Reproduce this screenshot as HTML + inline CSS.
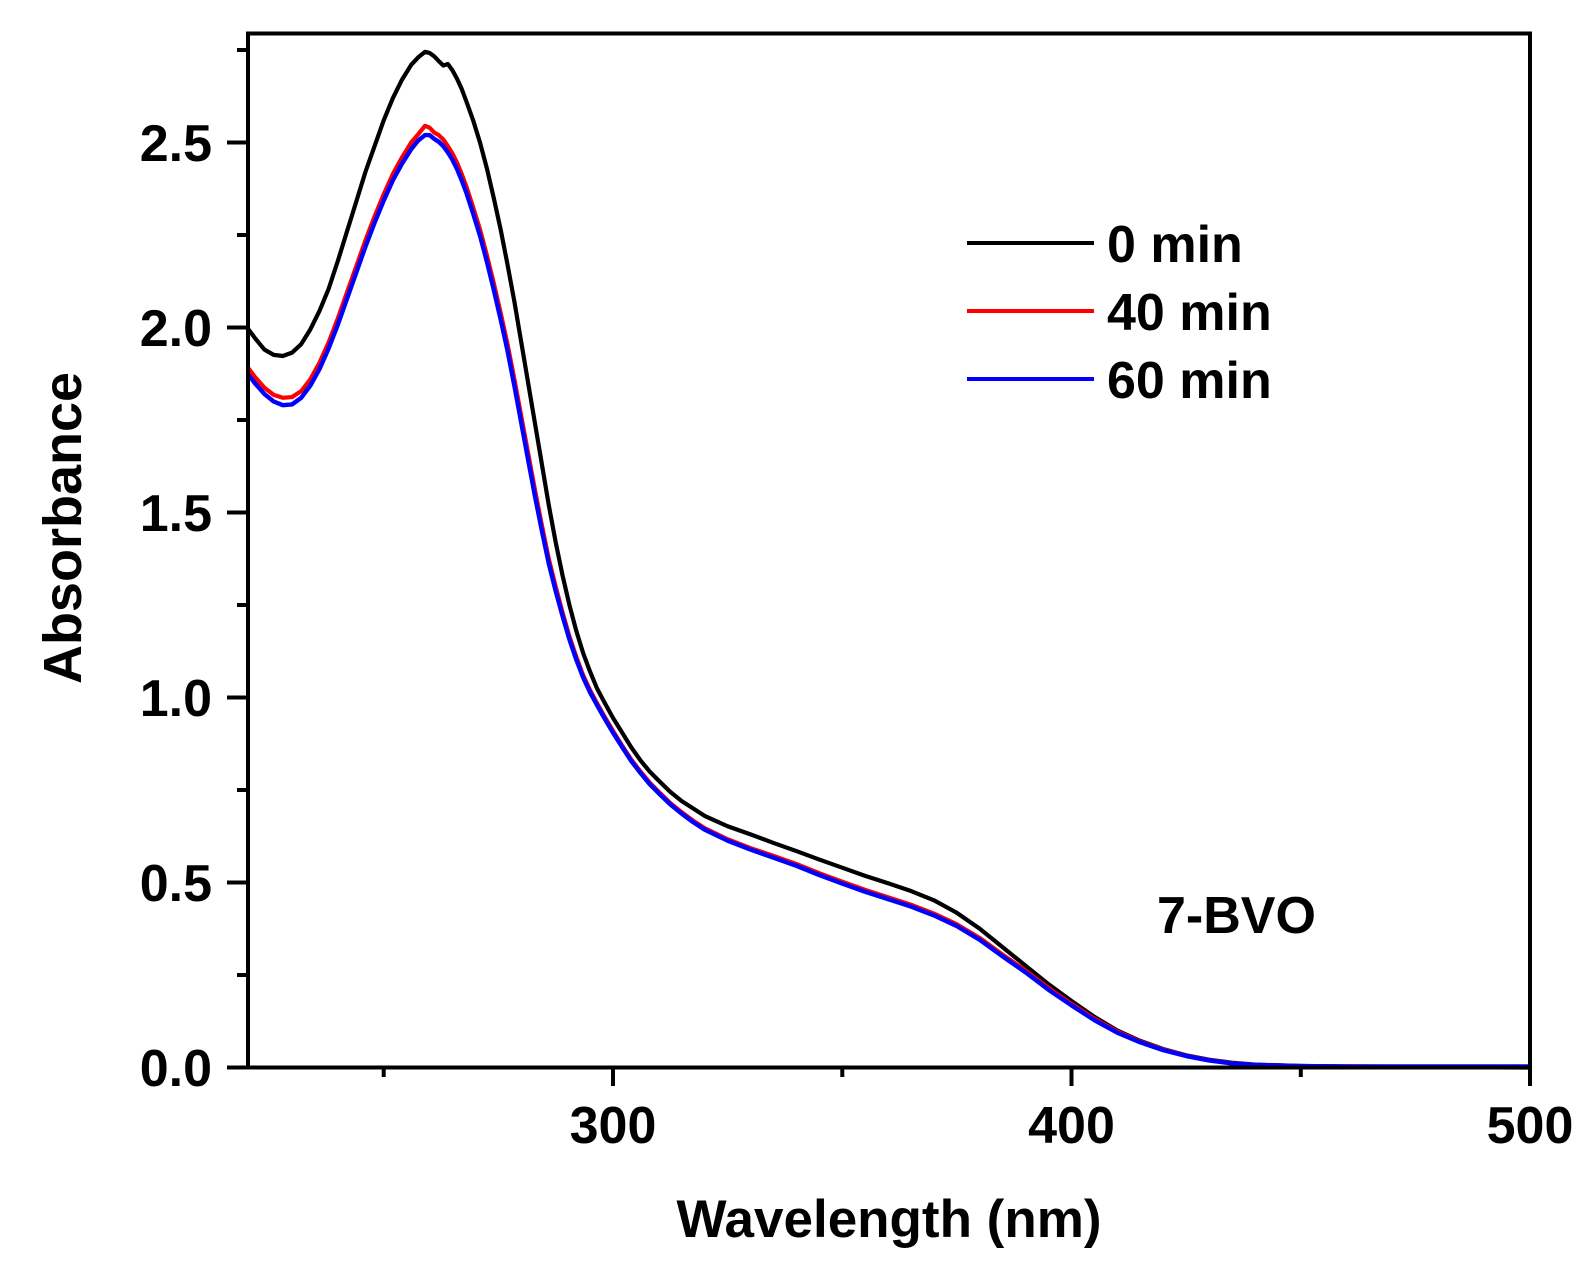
<!DOCTYPE html>
<html>
<head>
<meta charset="utf-8">
<style>
  html, body { margin: 0; padding: 0; background: #ffffff; }
  svg { display: block; }
  text { font-family: "Liberation Sans", Arial, sans-serif; font-weight: bold; fill: #000; }
</style>
</head>
<body>
<svg width="1586" height="1270" viewBox="0 0 1586 1270" xmlns="http://www.w3.org/2000/svg">
  <rect x="0" y="0" width="1586" height="1270" fill="#ffffff"/>

  <!-- curves in data coordinates -->
  <g transform="matrix(4.585,0,0,-370,-762.53,1067.5)" fill="none" stroke-linejoin="round" stroke-linecap="round">
    <polyline vector-effect="non-scaling-stroke" stroke="#000000" stroke-width="4.2" points="
      220.5,1.995 222,1.97 224,1.94 226,1.926 228,1.923 230,1.932 232,1.955 234,1.995 236,2.045 238,2.105
      240,2.18 242,2.26 244,2.34 246,2.42 248,2.49 250,2.56 252,2.62 254,2.67 256,2.71 257.5,2.73
      259,2.745 260,2.742 261,2.733 262,2.72 263,2.708 264,2.712 265,2.695 266,2.672 267,2.645 268,2.612
      269.5,2.56 271,2.5 272.5,2.43 274,2.35 275.5,2.265 277,2.17 278.5,2.07 280,1.96 281.5,1.85 283,1.74
      284.5,1.63 286,1.52 287.5,1.42 289,1.33 290.5,1.25 292,1.18 293.5,1.12 295,1.07 296.5,1.025 298,0.99
      300,0.945 302,0.905 304,0.865 306,0.83 308,0.8 310,0.775 312.5,0.745 315,0.72 317.5,0.7 320,0.68
      325,0.652 330,0.63 335,0.607 340,0.585 345,0.562 350,0.54 355,0.518 360,0.498 365,0.477 370,0.452
      375,0.418 380,0.375 385,0.325 390,0.275 395,0.225 400,0.18 405,0.137 410,0.1 415,0.072 420,0.05
      425,0.033 430,0.021 435,0.013 440,0.008 450,0.004 460,0.002 480,0.001 500,0.0"/>
    <polyline vector-effect="non-scaling-stroke" stroke="#ff0000" stroke-width="4.2" points="
      220.5,1.89 222,1.865 224,1.837 226,1.818 228,1.81 230,1.812 232,1.828 234,1.86 236,1.905 238,1.96
      240,2.025 242,2.095 244,2.165 246,2.235 248,2.3 250,2.36 252,2.415 254,2.46 256,2.5 257.5,2.522
      259,2.545 260,2.54 261,2.527 262,2.52 263,2.508 264,2.49 265,2.47 266,2.445 267,2.415 268,2.382
      269.5,2.325 271,2.265 272.5,2.195 274,2.12 275.5,2.04 277,1.955 278.5,1.86 280,1.76 281.5,1.66 283,1.56
      284.5,1.465 286,1.375 287.5,1.3 289,1.23 290.5,1.165 292,1.11 293.5,1.06 295,1.02 296.5,0.985 298,0.952
      300,0.91 302,0.87 304,0.832 306,0.8 308,0.77 310,0.745 312.5,0.715 315,0.69 317.5,0.667 320,0.647
      325,0.617 330,0.593 335,0.572 340,0.55 345,0.525 350,0.502 355,0.48 360,0.46 365,0.44 370,0.416
      375,0.387 380,0.35 385,0.305 390,0.262 395,0.215 400,0.172 405,0.132 410,0.097 415,0.07 420,0.049
      425,0.032 430,0.02 435,0.012 440,0.007 450,0.004 460,0.003 480,0.002 500,0.002"/>
    <polyline vector-effect="non-scaling-stroke" stroke="#0000ff" stroke-width="4.4" points="
      220.5,1.872 222,1.848 224,1.82 226,1.8 228,1.79 230,1.792 232,1.81 234,1.843 236,1.888 238,1.944
      240,2.008 242,2.078 244,2.148 246,2.218 248,2.283 250,2.343 252,2.398 254,2.443 256,2.482 257.5,2.505
      259,2.52 260,2.52 261,2.51 262,2.502 263,2.49 264,2.473 265,2.453 266,2.428 267,2.398 268,2.365
      269.5,2.308 271,2.248 272.5,2.178 274,2.102 275.5,2.022 277,1.937 278.5,1.842 280,1.742 281.5,1.642 283,1.543
      284.5,1.45 286,1.362 287.5,1.288 289,1.22 290.5,1.157 292,1.102 293.5,1.054 295,1.014 296.5,0.98 298,0.947
      300,0.905 302,0.866 304,0.828 306,0.796 308,0.766 310,0.741 312.5,0.711 315,0.686 317.5,0.663 320,0.643
      325,0.613 330,0.589 335,0.567 340,0.545 345,0.52 350,0.497 355,0.475 360,0.455 365,0.435 370,0.411
      375,0.382 380,0.345 385,0.3 390,0.257 395,0.21 400,0.168 405,0.128 410,0.094 415,0.068 420,0.047
      425,0.031 430,0.019 435,0.011 440,0.007 450,0.004 460,0.003 480,0.003 500,0.003"/>
  </g>

  <!-- axes frame -->
  <rect x="248" y="33.5" width="1282" height="1034" fill="none" stroke="#000" stroke-width="4"/>

  <!-- y ticks -->
  <g stroke="#000" stroke-width="4">
    <line x1="227" y1="1067.5" x2="248" y2="1067.5"/>
    <line x1="227" y1="882.5" x2="248" y2="882.5"/>
    <line x1="227" y1="697.5" x2="248" y2="697.5"/>
    <line x1="227" y1="512.5" x2="248" y2="512.5"/>
    <line x1="227" y1="327.5" x2="248" y2="327.5"/>
    <line x1="227" y1="142.5" x2="248" y2="142.5"/>
    <line x1="237" y1="975" x2="248" y2="975"/>
    <line x1="237" y1="790" x2="248" y2="790"/>
    <line x1="237" y1="605" x2="248" y2="605"/>
    <line x1="237" y1="420" x2="248" y2="420"/>
    <line x1="237" y1="235" x2="248" y2="235"/>
    <line x1="237" y1="50" x2="248" y2="50"/>
  </g>
  <!-- x ticks -->
  <g stroke="#000" stroke-width="4">
    <line x1="613" y1="1067" x2="613" y2="1086"/>
    <line x1="1071.5" y1="1067" x2="1071.5" y2="1086"/>
    <line x1="1530" y1="1067" x2="1530" y2="1086"/>
    <line x1="383.7" y1="1067" x2="383.7" y2="1077"/>
    <line x1="842.3" y1="1067" x2="842.3" y2="1077"/>
    <line x1="1300.8" y1="1067" x2="1300.8" y2="1077"/>
  </g>

  <!-- y tick labels -->
  <g font-size="52" text-anchor="end">
    <text x="212" y="1086">0.0</text>
    <text x="212" y="901">0.5</text>
    <text x="212" y="716">1.0</text>
    <text x="212" y="531">1.5</text>
    <text x="212" y="346">2.0</text>
    <text x="212" y="161">2.5</text>
  </g>
  <!-- x tick labels -->
  <g font-size="52" text-anchor="middle">
    <text x="613" y="1143">300</text>
    <text x="1071.5" y="1143">400</text>
    <text x="1530" y="1143">500</text>
  </g>

  <!-- axis titles -->
  <text x="889" y="1237" font-size="53" text-anchor="middle">Wavelength (nm)</text>
  <text transform="translate(81,528) rotate(-90)" font-size="54" text-anchor="middle">Absorbance</text>

  <!-- legend -->
  <g stroke-width="4">
    <line x1="967" y1="243" x2="1094" y2="243" stroke="#000000"/>
    <line x1="967" y1="311" x2="1094" y2="311" stroke="#ff0000"/>
    <line x1="967" y1="379" x2="1094" y2="379" stroke="#0000ff"/>
  </g>
  <g font-size="52">
    <text x="1107" y="262">0 min</text>
    <text x="1107" y="330">40 min</text>
    <text x="1107" y="398">60 min</text>
  </g>

  <!-- sample label -->
  <text x="1157" y="933" font-size="52">7-BVO</text>
</svg>
</body>
</html>
